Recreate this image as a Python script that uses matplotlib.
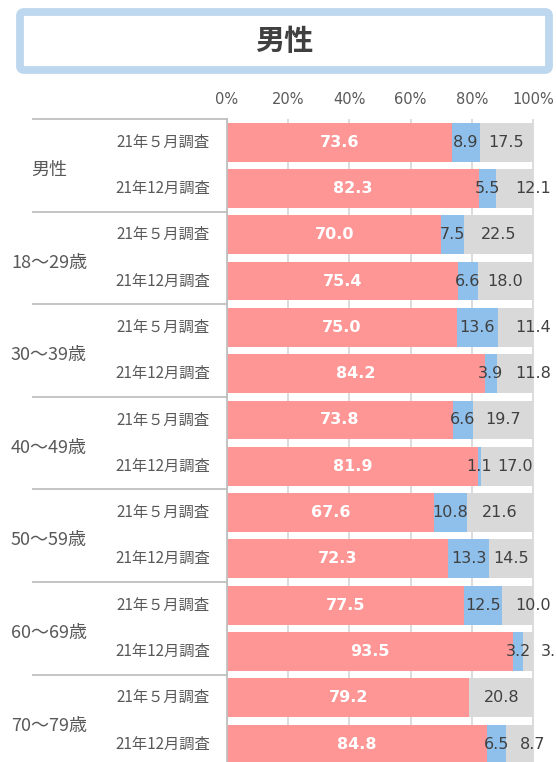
import numpy as np
import matplotlib
matplotlib.use('Agg')
import matplotlib.pyplot as plt
from matplotlib.patches import FancyBboxPatch
from matplotlib.transforms import blended_transform_factory

plt.rcParams['font.family'] = ['Noto Sans CJK JP', 'DejaVu Sans']

# data
title = '男性'
groups = ['男性', '18～29歳', '30～39歳', '40～49歳', '50～59歳', '60～69歳', '70～79歳']
surveys = ['21年５月調査', '21年12月調査']
pink_vals = [73.6, 82.3, 70.0, 75.4, 75.0, 84.2, 73.8, 81.9, 67.6, 72.3, 77.5, 93.5, 79.2, 84.8]
blue_vals = [8.9, 5.5, 7.5, 6.6, 13.6, 3.9, 6.6, 1.1, 10.8, 13.3, 12.5, 3.2, 0.0, 6.5]
grey_vals = [17.5, 12.1, 22.5, 18.0, 11.4, 11.8, 19.7, 17.0, 21.6, 14.5, 10.0, 3.3, 20.8, 8.7]
ticks = [0, 20, 40, 60, 80, 100]

PINK = '#FF9696'
BLUE = '#8EC0EB'
GREY = '#D9D9D9'
TXT = '#404040'
LAB = '#595959'
LINE = '#BFBFBF'
NUMFONT = 'DejaVu Sans'

W, H = 556, 762
fig = plt.figure(figsize=(W / 100, H / 100), dpi=100)

# background layer in pixel coords (title box)
bg = fig.add_axes([0, 0, 1, 1])
bg.set_xlim(0, W)
bg.set_ylim(H, 0)
bg.axis('off')
box = FancyBboxPatch((20, 12), 529, 58, boxstyle='round,pad=0,rounding_size=4',
                     fc='white', ec='#BDD7EE', lw=5.6)
bg.add_patch(box)
bg.text(284, 41, title, ha='center', va='center', fontsize=21, fontweight='bold', color=TXT)

# main axes
top_px = 119
x0_px, x1_px = 227, 534
ax = fig.add_axes([x0_px / W, 0, (x1_px - x0_px) / W, (H - top_px) / H])
ax.patch.set_alpha(0)

n = len(pink_vals)
y = np.arange(n)
pink = np.array(pink_vals)
blue = np.array(blue_vals)
grey = np.array(grey_vals)

ax.barh(y, pink, height=0.84, color=PINK, zorder=2)
ax.barh(y, blue, left=pink, height=0.84, color=BLUE, zorder=2)
ax.barh(y, grey, left=pink + blue, height=0.84, color=GREY, zorder=2)

pitch = 46.3
ax.set_xlim(0, 100.3)
ax.set_ylim(-0.5 + (H - top_px) / pitch, -0.5)

ax.set_xticks(ticks)
ax.set_xticklabels([f'{t}%' for t in ticks], fontsize=10.5, color=LAB, family=NUMFONT)
ax.xaxis.tick_top()
ax.tick_params(axis='x', length=0, pad=9)
ax.set_yticks([])
ax.grid(axis='x', color=GREY, lw=1.3, zorder=0)
ax.set_axisbelow(True)
for s in ['top', 'right', 'bottom']:
    ax.spines[s].set_visible(False)
ax.spines['left'].set_color(LINE)
ax.spines['left'].set_linewidth(1.3)

# value labels
for i in range(n):
    p, b, g = pink[i], blue[i], grey[i]
    ax.text(p / 2, i, f'{p:.1f}', ha='center', va='center', color='white',
            fontsize=11.5, fontweight='bold', family=NUMFONT, zorder=3)
    if b > 0:
        ax.text(p + b / 2, i, f'{b:.1f}', ha='center', va='center', color=TXT,
                fontsize=11.5, family=NUMFONT, zorder=3)
    # keep grey label clear of the blue one
    gx = p + b + g / 2
    if b > 0:
        gx = max(gx, p + b / 2 + 11.5)
    if g < 13:
        gx = max(gx, 100)
    ax.text(gx, i, f'{g:.1f}', ha='center', va='center', color=TXT,
            fontsize=11.5, family=NUMFONT, zorder=3, clip_on=False)

# category labels
trans = blended_transform_factory(fig.transFigure, ax.transData)
for k in range(len(groups) + 1):
    ax.plot([33 / W, x0_px / W], [2 * k - 0.5] * 2, transform=trans, color=LINE,
            lw=1.3, clip_on=False)
for gi, name in enumerate(groups):
    ax.text(49 / W, 2 * gi + 0.6, name, transform=trans, ha='center', va='center',
            fontsize=13, color=LAB)
    for si, s in enumerate(surveys):
        ax.text(210 / W, 2 * gi + si, s, transform=trans, ha='right', va='center',
                fontsize=11, color=LAB)

fig.savefig('out.png', dpi=100)
